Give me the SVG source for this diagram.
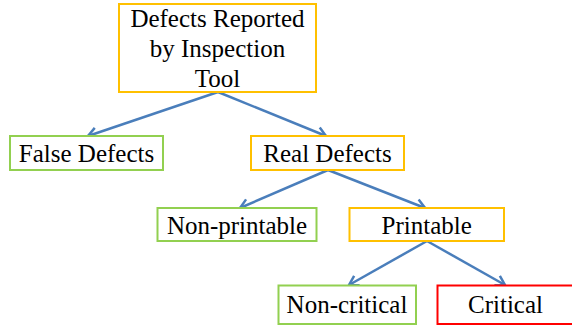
<svg xmlns="http://www.w3.org/2000/svg" width="572" height="327" viewBox="0 0 572 327">
<style>
.box{fill:#fff;stroke-width:2}
.y{stroke:#ffc000}
.g{stroke:#92d050}
.r{stroke:#ff0000}
.c{stroke:#4a7ebb;stroke-width:2.5;fill:none;marker-end:url(#ah)}
</style>
<defs>
<marker id="ah" markerUnits="userSpaceOnUse" markerWidth="16" markerHeight="16" refX="10" refY="6" orient="auto" viewBox="0 0 16 12">
<path d="M1,0.5 L10,6 L1,11.5" fill="none" stroke="#4a7ebb" stroke-width="2.5" stroke-linejoin="miter"/>
</marker>
</defs>
<rect width="572" height="327" fill="#fff"/>
<g id="connectors">
<line class="c" x1="218" y1="92" x2="88" y2="136"/>
<line class="c" x1="218" y1="92" x2="326" y2="136"/>
<line class="c" x1="328" y1="170" x2="240" y2="208"/>
<line class="c" x1="328" y1="170" x2="425" y2="208"/>
<line class="c" x1="427" y1="241" x2="349" y2="285"/>
<line class="c" x1="427" y1="241" x2="505" y2="285"/>
</g>
<g font-family="Liberation Serif, Times New Roman, serif" font-size="25" fill="#000" text-anchor="middle">
<g id="root">
<rect class="box y" x="119" y="4" width="197" height="88"/>
<text x="217.5" y="27">Defects Reported</text>
<text x="217.5" y="57">by Inspection</text>
<text x="217.5" y="87">Tool</text>
</g>
<g id="false-defects">
<rect class="box g" x="10" y="136" width="153" height="34"/>
<text x="86.5" y="162">False Defects</text>
</g>
<g id="real-defects">
<rect class="box y" x="251" y="136" width="153" height="34"/>
<text x="327.5" y="162">Real Defects</text>
</g>
<g id="non-printable">
<rect class="box g" x="157.5" y="208" width="159" height="33"/>
<text x="237" y="234">Non-printable</text>
</g>
<g id="printable">
<rect class="box y" x="349.5" y="208" width="154.5" height="33"/>
<text x="426.7" y="234">Printable</text>
</g>
<g id="non-critical">
<rect class="box g" x="278.5" y="285.5" width="137.5" height="38.5"/>
<text x="347" y="313">Non-critical</text>
</g>
<g id="critical">
<rect class="box r" x="437.5" y="285.5" width="136" height="38.5"/>
<text x="505.5" y="313">Critical</text>
</g>
</g>
</svg>
